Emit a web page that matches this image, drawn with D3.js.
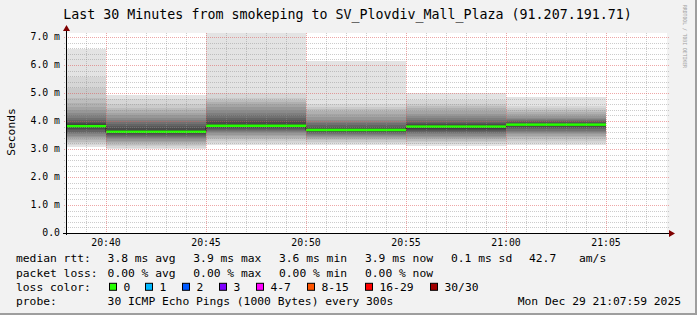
<!DOCTYPE html>
<html>
<head>
<meta charset="utf-8">
<script src="https://cdn.jsdelivr.net/npm/d3@7"></script>
<style>
  html, body { margin: 0; padding: 0; background: #f2f2f2; }
  svg { display: block; }
  text { font-family: "DejaVu Sans Mono", monospace; fill: #000; }
</style>
</head>
<body>
<div id="chart"></div>
<script>
(function() {
  var day = "2025-12-29";

  // end of each 5 minute step
  var stepEnds = ["20:40", "20:45", "20:50", "20:55", "21:00", "21:05"];

  // median rtt per step, ms
  var medians = [3.815, 3.615, 3.83, 3.68, 3.80, 3.87];

  // 30 sorted pings per step, ms (lowest 15 then highest 15)
  var pings = [
    [3.08, 3.14, 3.20, 3.26, 3.32, 3.38, 3.43, 3.48, 3.53, 3.58, 3.62, 3.67, 3.71, 3.75, 3.79,
     3.84, 3.88, 3.93, 3.98, 4.05, 4.12, 4.20, 4.30, 4.40, 4.50, 4.65, 4.81, 5.17, 5.58, 6.57],
    [2.99, 3.04, 3.10, 3.15, 3.20, 3.26, 3.30, 3.34, 3.38, 3.42, 3.46, 3.50, 3.53, 3.56, 3.59,
     3.64, 3.69, 3.75, 3.82, 3.90, 3.98, 4.05, 4.12, 4.20, 4.30, 4.40, 4.48, 4.62, 4.78, 4.93],
    [3.14, 3.22, 3.29, 3.35, 3.41, 3.46, 3.51, 3.56, 3.60, 3.64, 3.68, 3.72, 3.75, 3.78, 3.80,
     3.86, 3.90, 3.95, 4.02, 4.10, 4.20, 4.30, 4.40, 4.50, 4.60, 4.68, 4.75, 4.82, 5.00, 7.80],
    [3.14, 3.20, 3.26, 3.31, 3.36, 3.40, 3.44, 3.48, 3.51, 3.54, 3.57, 3.59, 3.61, 3.63, 3.65,
     3.71, 3.73, 3.76, 3.80, 3.86, 3.92, 3.98, 4.05, 4.15, 4.25, 4.35, 4.42, 4.50, 4.62, 6.15],
    [3.12, 3.18, 3.24, 3.30, 3.35, 3.40, 3.44, 3.48, 3.52, 3.56, 3.60, 3.64, 3.68, 3.72, 3.77,
     3.83, 3.86, 3.89, 3.93, 3.98, 4.03, 4.10, 4.17, 4.25, 4.35, 4.45, 4.55, 4.62, 4.75, 5.01],
    [3.14, 3.22, 3.30, 3.37, 3.43, 3.48, 3.53, 3.58, 3.62, 3.66, 3.70, 3.74, 3.78, 3.82, 3.86,
     3.88, 3.90, 3.93, 3.96, 3.99, 4.03, 4.07, 4.12, 4.18, 4.25, 4.32, 4.40, 4.48, 4.55, 4.85]
  ];

  var yTickLabels = ["0.0", "1.0 m", "2.0 m", "3.0 m", "4.0 m", "5.0 m", "6.0 m", "7.0 m"];

  var lossLabels = ["0", "1", "2", "3", "4-7", "8-15", "16-29", "30/30"];
  var lossColors = ["#26ff00", "#00b8ff", "#0059ff", "#7e00ff", "#ff00ff", "#ff5500", "#ff0000", "#a10000"];
  var lossX = [109, 145, 182, 219, 256, 307, 365, 430];

  var rttStats = ["3.8 ms avg", "3.9 ms max", "3.6 ms min", "3.9 ms now", "0.1 ms sd"];
  var lossStats = ["0.00 % avg", "0.00 % max", "0.00 % min", "0.00 % now"];

  var width = 697, height = 315;
  var left = 66, right = 666, top = 33, bottom = 233;
  var parse = d3.timeParse("%Y-%m-%d %H:%M");
  var half = 15;

  var svg = d3.select("#chart").append("svg")
    .attr("width", width)
    .attr("height", height);

  // frame
  svg.append("rect").attr("width", width).attr("height", height).attr("fill", "#f2f2f2");
  svg.append("rect").attr("x", width - 2).attr("y", 0).attr("width", 2).attr("height", height).attr("fill", "#9e9e9e");
  svg.append("rect").attr("x", 0).attr("y", height - 2).attr("width", width).attr("height", 2).attr("fill", "#9e9e9e");

  var x = d3.scaleTime()
    .domain([parse(day + " 20:38"), parse(day + " 21:08")])
    .range([left, right]);

  var y = d3.scaleLinear()
    .domain([0, (bottom - top) / 28])
    .range([bottom, top]);

  svg.append("rect")
    .attr("x", left).attr("y", top)
    .attr("width", right - left + 1).attr("height", bottom - top)
    .attr("fill", "#fff");

  svg.append("clipPath").attr("id", "plot-clip")
    .append("rect")
    .attr("x", left).attr("y", top)
    .attr("width", right - left).attr("height", bottom - top);

  var plot = svg.append("g").attr("clip-path", "url(#plot-clip)");

  var steps = stepEnds.map(function(t, i) {
    var end = parse(day + " " + t);
    return {
      start: d3.timeMinute.offset(end, -5),
      end: end,
      median: medians[i],
      pings: pings[i]
    };
  });

  // smoke: band ii goes from ping ii to ping (31 - ii), lighter outside
  var bands = [];
  steps.forEach(function(s) {
    for (var ii = 1; ii <= half; ii++) {
      var c = Math.floor(190 / half * (half - ii)) + 50;
      bands.push({
        start: s.start, end: s.end,
        lo: s.pings[ii - 1], hi: s.pings[30 - ii],
        color: "rgb(" + c + "," + c + "," + c + ")"
      });
    }
  });

  plot.selectAll("rect.smoke").data(bands).enter().append("rect")
    .attr("class", "smoke")
    .attr("x", function(d) { return x(d.start); })
    .attr("width", function(d) { return x(d.end) - x(d.start); })
    .attr("y", function(d) { return y(d.hi); })
    .attr("height", function(d) { return y(d.lo) - y(d.hi); })
    .attr("fill", function(d) { return d.color; })
    .attr("shape-rendering", "crispEdges");

  // dark median step line
  var stepLine = d3.line()
    .x(function(d) { return d[0]; })
    .y(function(d) { return d[1]; });
  var pts = [];
  steps.forEach(function(s) {
    pts.push([x(s.start), Math.round(y(s.median)) + 0.5]);
    pts.push([x(s.end), Math.round(y(s.median)) + 0.5]);
  });
  plot.append("path")
    .attr("d", stepLine(pts))
    .attr("fill", "none")
    .attr("stroke", "#202020")
    .attr("stroke-width", 1);

  // median coloured by loss (all 0 here)
  plot.selectAll("rect.median").data(steps).enter().append("rect")
    .attr("class", "median")
    .attr("x", function(d) { return x(d.start); })
    .attr("width", function(d) { return x(d.end) - x(d.start); })
    .attr("y", function(d) { return y(d.median) - 1.25; })
    .attr("height", 2.5)
    .attr("fill", lossColors[0]);

  // grid on top
  var grid = svg.append("g");
  var minorY = d3.range(0, 36).map(function(i) { return i * 0.2; });
  grid.selectAll("line.hminor").data(minorY.filter(function(v, i) { return i % 5 != 0; })).enter().append("line")
    .attr("x1", left - 2).attr("x2", right + 3)
    .attr("y1", function(d) { return Math.round(y(d)) + 0.5; })
    .attr("y2", function(d) { return Math.round(y(d)) + 0.5; })
    .attr("stroke", "rgba(143,143,143,0.46)")
    .attr("stroke-dasharray", "1,1");

  var minorX = d3.timeMinute.every(1).range(x.domain()[0], x.domain()[1]);
  grid.selectAll("line.vminor").data(minorX.filter(function(d) { return d.getMinutes() % 5 != 0; })).enter().append("line")
    .attr("x1", function(d) { return Math.round(x(d)) + 0.5; })
    .attr("x2", function(d) { return Math.round(x(d)) + 0.5; })
    .attr("y1", top).attr("y2", bottom + 2)
    .attr("stroke", "rgba(143,143,143,0.46)")
    .attr("stroke-dasharray", "1,1");

  grid.selectAll("line.hmajor").data(d3.range(1, 8)).enter().append("line")
    .attr("x1", left - 2).attr("x2", right + 3)
    .attr("y1", function(d) { return Math.round(y(d)) + 0.5; })
    .attr("y2", function(d) { return Math.round(y(d)) + 0.5; })
    .attr("stroke", "rgba(222,80,80,0.5)")
    .attr("stroke-dasharray", "1,1");

  var majorX = x.ticks(d3.timeMinute.every(5));
  grid.selectAll("line.vmajor").data(majorX).enter().append("line")
    .attr("x1", function(d) { return Math.round(x(d)) + 0.5; })
    .attr("x2", function(d) { return Math.round(x(d)) + 0.5; })
    .attr("y1", top).attr("y2", bottom + 2)
    .attr("stroke", "rgba(222,80,80,0.5)")
    .attr("stroke-dasharray", "1,1");

  // axes
  svg.append("line")
    .attr("x1", left - 3).attr("x2", right + 4)
    .attr("y1", bottom + 0.5).attr("y2", bottom + 0.5)
    .attr("stroke", "#000");
  svg.append("line")
    .attr("x1", left + 0.5).attr("x2", left + 0.5)
    .attr("y1", bottom + 2).attr("y2", top - 3)
    .attr("stroke", "#000");
  svg.append("path")
    .attr("d", "M" + (right + 3) + "," + (bottom - 3) + "L" + (right + 9) + "," + (bottom + 0.5) + "L" + (right + 3) + "," + (bottom + 4) + "Z")
    .attr("fill", "#7f0000");
  svg.append("path")
    .attr("d", "M" + (left - 3) + "," + (top - 2) + "L" + (left + 0.5) + "," + (top - 8) + "L" + (left + 4) + "," + (top - 2) + "Z")
    .attr("fill", "#7f0000");

  svg.selectAll("text.ylab").data(yTickLabels).enter().append("text")
    .attr("class", "ylab")
    .attr("x", 60)
    .attr("y", function(d, i) { return y(i); })
    .attr("dy", "0.35em")
    .attr("text-anchor", "end")
    .attr("font-size", "9.8px")
    .text(function(d) { return d; });

  var fmt = d3.timeFormat("%H:%M");
  svg.selectAll("text.xlab").data(majorX).enter().append("text")
    .attr("class", "xlab")
    .attr("x", function(d) { return x(d); })
    .attr("y", 242.5)
    .attr("dy", "0.35em")
    .attr("text-anchor", "middle")
    .attr("font-size", "9.8px")
    .text(function(d) { return fmt(d); });

  svg.append("text")
    .attr("transform", "translate(11,132) rotate(-90)")
    .attr("dy", "0.35em")
    .attr("text-anchor", "middle")
    .attr("font-size", "11.3px")
    .text("Seconds");

  svg.append("text")
    .attr("x", 347.5).attr("y", 14)
    .attr("dy", "0.35em")
    .attr("text-anchor", "middle")
    .attr("font-size", "13.3px")
    .text("Last 30 Minutes from smokeping to SV_Plovdiv_Mall_Plaza (91.207.191.71)");

  svg.append("text")
    .attr("transform", "translate(683,5) rotate(90)")
    .attr("font-size", "5.3px")
    .attr("textLength", 63)
    .attr("lengthAdjust", "spacingAndGlyphs")
    .style("fill", "#a0a0a0")
    .text("RRDTOOL / TOBI OETIKER");

  // legend
  var rows = [258.4, 272.6, 286.8, 301];
  var colX = [107.6, 193.3, 279, 365, 451];
  var legend = svg.append("g").attr("font-size", "11.3px");

  function put(tx, ty, str, anchor) {
    legend.append("text")
      .attr("x", tx).attr("y", ty)
      .attr("dy", "0.35em")
      .attr("text-anchor", anchor || "start")
      .attr("xml:space", "preserve")
      .text(str);
  }

  put(16, rows[0], "median rtt:");
  rttStats.forEach(function(s, i) { put(colX[i], rows[0], s); });
  put(529, rows[0], "42.7");
  put(579, rows[0], "am/s");

  put(16, rows[1], "packet loss:");
  lossStats.forEach(function(s, i) { put(colX[i], rows[1], s); });

  put(16, rows[2], "loss color:");
  legend.selectAll("rect.lc").data(lossColors).enter().append("rect")
    .attr("x", function(d, i) { return lossX[i] + 0.5; })
    .attr("y", rows[2] - 3.5)
    .attr("width", 7).attr("height", 7)
    .attr("fill", function(d) { return d; })
    .attr("stroke", "#000");
  lossLabels.forEach(function(s, i) { put(lossX[i] + 14.5, rows[2], s); });

  put(16, rows[3], "probe:");
  put(107.6, rows[3], "30 ICMP Echo Pings (1000 Bytes) every 300s");
  put(681, rows[3], "Mon Dec 29 21:07:59 2025", "end");
})();
</script>
</body>
</html>
